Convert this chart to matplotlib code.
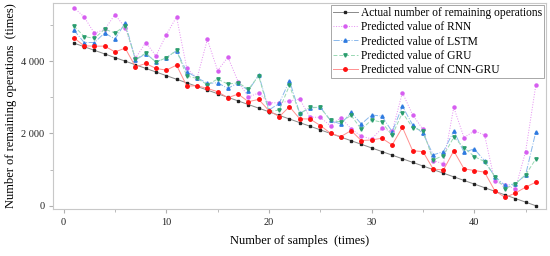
import matplotlib
matplotlib.use("Agg")
import matplotlib.pyplot as plt
from matplotlib.ticker import FuncFormatter, MultipleLocator

plt.rcParams['font.family'] = ['Liberation Serif', 'DejaVu Serif']

samples = list(range(1, 47))

actual = [4500, 4400, 4300, 4200, 4100, 4000, 3900, 3800, 3700, 3600,
          3500, 3400, 3300, 3200, 3100, 3000, 2900, 2800, 2700, 2600,
          2500, 2400, 2300, 2200, 2100, 2000, 1900, 1800, 1700, 1600,
          1500, 1400, 1300, 1200, 1100, 1000, 900, 800, 700, 600,
          500, 400, 300, 200, 100, 0]

rnn = [5480, 5224, 4770, 4880, 5288, 4930, 4080, 4516, 4148, 4730,
       5224, 3800, 3530, 4600, 3740, 4110, 3431, 3010, 3120, 2851,
       2845, 2900, 2950, 2450, 2446, 2207, 2440, 2130, 1920, 1850,
       2140, 2055, 3130, 2511, 2115, 1250, 1159, 2722, 1885, 2069,
       1959, 671, 570, 469, 1499, 3350]

lstm = [4860, 4516, 4516, 4782, 4610, 5060, 4028, 4210, 3982, 4093,
        4290, 3706, 3545, 3384, 3403, 3246, 3403, 3182, 3620, 2649,
        2833, 3460, 2557, 2710, 2722, 2360, 2260, 2580, 2262, 2511,
        2480, 2050, 2750, 2235, 2005, 1407, 1499, 2069, 1481, 1573,
        1242, 809, 561, 607, 855, 2051]

gru = [4976, 4680, 4630, 4883, 4782, 4980, 4050, 4220, 3970, 4093,
       4300, 3587, 3522, 3348, 3504, 3366, 3403, 3225, 3590, 2603,
       2649, 3330, 2545, 2722, 2722, 2360, 2320, 2500, 2115, 2373,
       2310, 1945, 2575, 2160, 2070, 1269, 1389, 1894, 1609, 1361,
       1223, 809, 469, 607, 855, 1297]

cnn_gru = [4644, 4424, 4415, 4415, 4258, 4359, 3844, 3936, 3798, 3752,
           3890, 3311, 3320, 3246, 3155, 2989, 3090, 2879, 2943, 2630,
           2465, 2741, 2405, 2400, 2220, 2005, 1913, 2079, 1803, 1821,
           1867, 1683, 2170, 1520, 1499, 1012, 993, 1518, 1021, 975,
           929, 414, 230, 350, 515, 653]

labels = ["Actual number of remaining operations",
          "Predicted value of RNN",
          "Predicted value of LSTM",
          "Predicted value of GRU",
          "Predicted value of CNN-GRU"]

fig = plt.figure(figsize=(5.5, 2.56), dpi=100)
ax = fig.add_axes([0.097, 0.185, 0.896, 0.802])

ax.plot(samples, actual, color='#8a8a8a', lw=0.7, ls='-', marker='s', ms=1.8,
        mfc='#222222', mec='#222222', label=labels[0], zorder=3)
ax.plot(samples, rnn, color='#e58cf2', lw=0.7, ls=':', marker='o', ms=2.2,
        mfc='#d65ef0', mec='#d65ef0', label=labels[1], zorder=2)
ax.plot(samples, lstm, color='#8ab8ec', lw=0.7, ls='-.', marker='^', ms=2.4,
        mfc='#2f7be0', mec='#2f7be0', label=labels[2], zorder=2)
ax.plot(samples, gru, color='#99d8b3', lw=0.7, ls=(0, (4, 2)), marker='v', ms=2.4,
        mfc='#2a9d6e', mec='#2a9d6e', label=labels[3], zorder=2)
ax.plot(samples, cnn_gru, color='#ff9090', lw=0.7, ls='-', marker='o', ms=2.5,
        mfc='#ff1010', mec='#ff1010', label=labels[4], zorder=4)

ax.set_xlim(-1, 47)
ax.set_ylim(-80, 5600)
ax.xaxis.set_major_locator(MultipleLocator(10))
ax.xaxis.set_minor_locator(MultipleLocator(5))
ax.yaxis.set_major_locator(MultipleLocator(2000))
ax.yaxis.set_minor_locator(MultipleLocator(1000))
ax.yaxis.set_major_formatter(FuncFormatter(lambda v, p: f"{int(v):,}".replace(',', ' ')))

for s in ax.spines.values():
    s.set_color('#c8c8c8')
    s.set_linewidth(0.8)
ax.tick_params(which='both', direction='out', color='#b0b0b0', labelsize=7.5,
               labelcolor='#222222')
ax.tick_params(which='major', length=3)
ax.tick_params(which='minor', length=2)

ax.set_xlabel("Number of samples  (times)", fontsize=9, labelpad=6)
ax.set_ylabel("Number of remaining operations  (times)", fontsize=9, labelpad=3)

leg = ax.legend(loc='upper right', fontsize=8.3, frameon=True, fancybox=False,
                framealpha=1, edgecolor='#9a9a9a', handlelength=2.1,
                borderpad=0.2, labelspacing=0.18, handletextpad=0.3,
                borderaxespad=0.15)
leg.get_frame().set_linewidth(0.6)

fig.savefig("out.png", dpi=100)
